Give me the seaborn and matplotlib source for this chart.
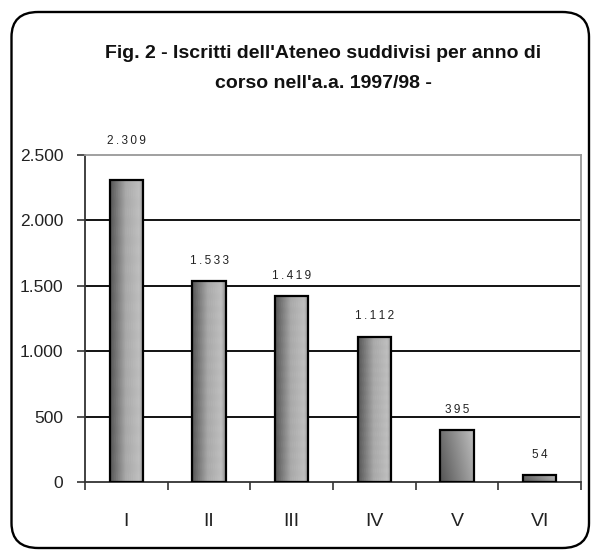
import numpy as np
import pandas as pd
import matplotlib
matplotlib.use("Agg")
import matplotlib.pyplot as plt
import seaborn as sns
from matplotlib.patches import FancyBboxPatch
from matplotlib import font_manager

categories = ["I", "II", "III", "IV", "V", "VI"]
values = [2309, 1533, 1419, 1112, 395, 54]
value_labels = ["2.309", "1.533", "1.419", "1.112", "395", "54"]
yticks = [0, 500, 1000, 1500, 2000, 2500]
ytick_labels = ["0", "500", "1.000", "1.500", "2.000", "2.500"]
title_lines = ["Fig. 2 - Iscritti dell'Ateneo suddivisi per anno di",
               "corso nell'a.a. 1997/98 -"]

sns.set_style("white")
names = {f.name for f in font_manager.fontManager.ttflist}
narrow = "Liberation Sans Narrow" if "Liberation Sans Narrow" in names else "Liberation Sans"
plt.rcParams["font.family"] = ["Liberation Sans", "DejaVu Sans"]

fig = plt.figure(figsize=(5.95, 5.54), dpi=100)
ax = fig.add_axes([85/595, 1-482/554, (581-85)/595, (482-155)/554])

df = pd.DataFrame({"cat": categories, "val": values})
sns.barplot(data=df, x="cat", y="val", ax=ax, color="#888888", width=0.4,
            edgecolor="black", linewidth=1.6, zorder=3)

ax.set_xlim(-0.5, 5.5)
ax.set_ylim(0, 2500)

# gradient fills
g = np.concatenate([np.linspace(0.33, 0.66, 120), np.linspace(0.66, 0.74, 100),
                    np.linspace(0.74, 0.55, 36)])
img = np.tile(g, (64, 1))
# faint vertical dashed texture
tex = img.copy()
for c in range(20, 236, 14):
    tex[::4, c:c + 2] += 0.06
    tex[1::4, c:c + 2] += 0.06
tex = np.clip(tex, 0, 1)
yy, xx = np.mgrid[0:64, 0:256]
diag = 0.33 + 0.42 * ((xx / 255.0) * 0.75 + (yy / 63.0) * 0.25)
for i, p in enumerate(ax.patches):
    x0, y0 = p.get_x(), p.get_y()
    w, h = p.get_width(), p.get_height()
    data = diag if i >= 4 else tex
    im = ax.imshow(data, cmap="gray", vmin=0, vmax=1, aspect="auto",
                   extent=[x0, x0 + w, y0, y0 + h], origin="lower", zorder=3.5,
                   interpolation="bilinear")
    im.set_clip_path(p)
    p.set_zorder(4)
    p.set_facecolor("none")

ax.set_xlim(-0.5, 5.5)
ax.set_ylim(0, 2500)

# gridlines
for v in yticks[1:-1]:
    ax.axhline(v, color="black", linewidth=1.3, zorder=1)

ax.set_yticks(yticks)
ax.set_yticklabels(ytick_labels, fontsize=12.5, color="#222222")
ax.set_xticks(range(len(categories)))
ax.set_xticklabels(categories, fontsize=14, color="#222222")
ax.set_xticks(np.arange(-0.5, 6, 1), minor=True)
ax.tick_params(axis="x", which="major", length=0, pad=22.5)
ax.tick_params(axis="x", which="minor", length=6, width=1.2, color="#333333", direction="out", bottom=True)
ax.tick_params(axis="y", which="major", length=6, width=1.2, color="#333333", direction="out", pad=9.5, left=True)
ax.set_xlabel("")
ax.set_ylabel("")

for s in ["left", "bottom"]:
    ax.spines[s].set_color("#333333")
    ax.spines[s].set_linewidth(1.3)
for s in ["top", "right"]:
    ax.spines[s].set_color("#999999")
    ax.spines[s].set_linewidth(1.3)

# data labels: baseline ~17px above bar top; if it would collide with the top
# frame line, Excel-style, push it just above the plot area.
px_per_unit = (482 - 155) / 2500
for i, (v, lab) in enumerate(zip(values, value_labels)):
    txt = "\u2009".join(lab)
    if v * px_per_unit + 17 + 9 > 2500 * px_per_unit:
        ax.annotate(txt, (i, 1), xycoords=("data", "axes fraction"),
                    xytext=(0, 8), textcoords="offset points",
                    ha="center", va="baseline", fontsize=8.5, color="#222222")
    else:
        ax.annotate(txt, (i, v), xytext=(0, 12.5), textcoords="offset points",
                    ha="center", va="baseline", fontsize=8.5, color="#222222")

fig.text(323/595, 1-53/554, title_lines[0],
         ha="center", va="center", fontsize=14, fontweight="bold",
         family=[narrow, "DejaVu Sans"], color="#111111")
fig.text(323/595, 1-83/554, title_lines[1],
         ha="center", va="center", fontsize=14, fontweight="bold",
         family=[narrow, "DejaVu Sans"], color="#111111")

frame = FancyBboxPatch((11.5/595, 1-548/554), (589-11.5)/595, (548-12)/554,
                       boxstyle="round,pad=0,rounding_size=0.045",
                       transform=fig.transFigure, facecolor="none",
                       edgecolor="black", linewidth=1.7, zorder=0)
fig.patches.append(frame)

fig.savefig("out.png", dpi=100)
